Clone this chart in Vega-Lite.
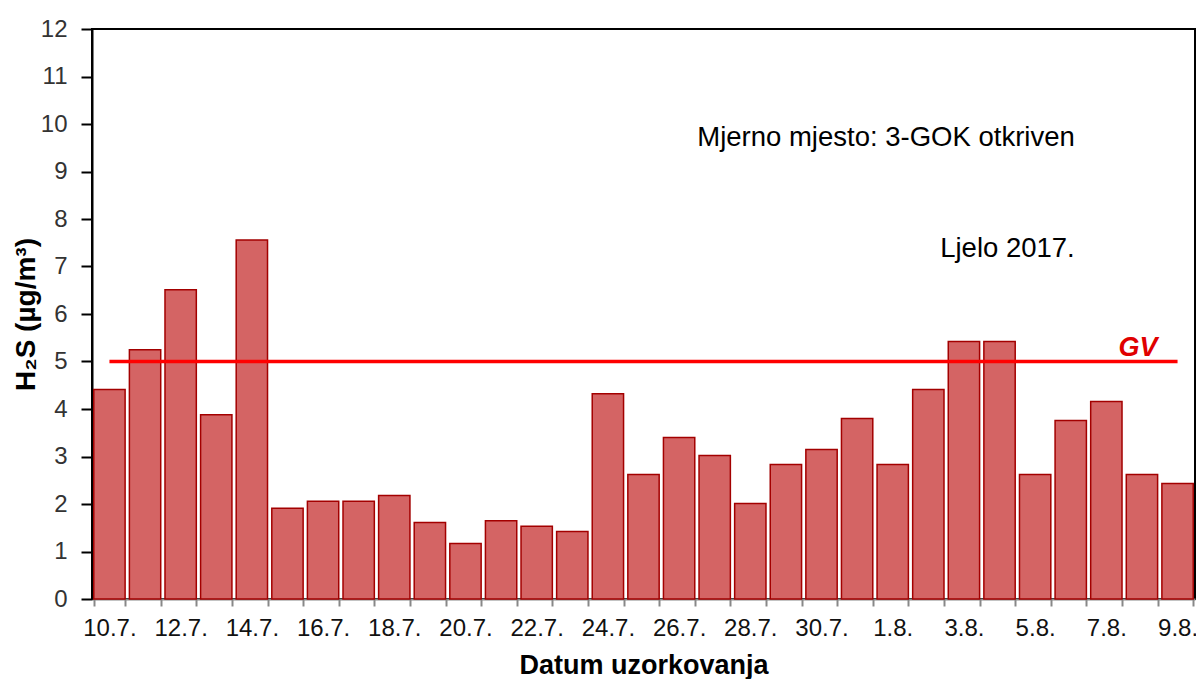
{
  "$schema": "https://vega.github.io/schema/vega-lite/v6.json",
  "width": 1103,
  "height": 570,
  "autosize": {"type": "none"},
  "padding": {"left": 92, "top": 29, "right": 1, "bottom": 80},
  "background": "white",
  "config": {
    "font": "Liberation Sans",
    "view": {"stroke": "black", "strokeWidth": 2}
  },
  "datasets": {
    "h2s": [
      {"datum": "10.7.", "h2s": 4.41},
      {"datum": "11.7.", "h2s": 5.25},
      {"datum": "12.7.", "h2s": 6.51},
      {"datum": "13.7.", "h2s": 3.88},
      {"datum": "14.7.", "h2s": 7.56},
      {"datum": "15.7.", "h2s": 1.91},
      {"datum": "16.7.", "h2s": 2.06},
      {"datum": "17.7.", "h2s": 2.06},
      {"datum": "18.7.", "h2s": 2.18},
      {"datum": "19.7.", "h2s": 1.61},
      {"datum": "20.7.", "h2s": 1.17},
      {"datum": "21.7.", "h2s": 1.65},
      {"datum": "22.7.", "h2s": 1.53},
      {"datum": "23.7.", "h2s": 1.42},
      {"datum": "24.7.", "h2s": 4.32},
      {"datum": "25.7.", "h2s": 2.62},
      {"datum": "26.7.", "h2s": 3.40},
      {"datum": "27.7.", "h2s": 3.02},
      {"datum": "28.7.", "h2s": 2.01},
      {"datum": "29.7.", "h2s": 2.83},
      {"datum": "30.7.", "h2s": 3.15},
      {"datum": "31.7.", "h2s": 3.80},
      {"datum": "1.8.", "h2s": 2.83},
      {"datum": "2.8.", "h2s": 4.41},
      {"datum": "3.8.", "h2s": 5.42},
      {"datum": "4.8.", "h2s": 5.42},
      {"datum": "5.8.", "h2s": 2.62},
      {"datum": "6.8.", "h2s": 3.76},
      {"datum": "7.8.", "h2s": 4.16},
      {"datum": "8.8.", "h2s": 2.62},
      {"datum": "9.8.", "h2s": 2.43}
    ]
  },
  "layer": [
    {
      "data": {"name": "h2s"},
      "mark": {"type": "bar", "fill": "#d46464", "stroke": "#a30000", "strokeWidth": 1.5},
      "encoding": {
        "x": {
          "field": "datum",
          "type": "nominal",
          "sort": null,
          "scale": {"paddingInner": 0.12, "paddingOuter": 0.05},
          "axis": {
            "title": "Datum uzorkovanja",
            "titleFont": "Liberation Sans",
            "titleFontSize": 27,
            "titleFontWeight": "bold",
            "titleColor": "black",
            "titlePadding": 12,
            "labelAngle": 0,
            "labelFontSize": 24,
            "labelColor": "#111",
            "labelPadding": 10,
            "labelExpr": "indexof(['10.7.','12.7.','14.7.','16.7.','18.7.','20.7.','22.7.','24.7.','26.7.','28.7.','30.7.','1.8.','3.8.','5.8.','7.8.','9.8.'], datum.value) >= 0 ? datum.value : ''",
            "tickBand": "extent",
            "tickSize": 7,
            "tickColor": "#888",
            "tickWidth": 2,
            "domainColor": "#888",
            "domainWidth": 2
          }
        },
        "y": {
          "field": "h2s",
          "type": "quantitative",
          "scale": {"domain": [0, 12], "nice": false},
          "axis": {
            "title": "H₂S (µg/m³)",
            "titleFontSize": 28,
            "titleFontWeight": "bold",
            "titleColor": "black",
            "titlePadding": 0,
            "values": [0, 1, 2, 3, 4, 5, 6, 7, 8, 9, 10, 11, 12],
            "grid": false,
            "labelFontSize": 24,
            "labelColor": "#333",
            "labelPadding": 14,
            "tickSize": 11,
            "tickColor": "black",
            "tickWidth": 2,
            "domainColor": "black",
            "domainWidth": 2
          }
        }
      }
    },
    {
      "data": {"values": [{"von": "10.7.", "bis": "9.8.", "gv": 5}]},
      "mark": {"type": "rule", "color": "#ff0000", "strokeWidth": 3.5},
      "encoding": {
        "x": {"field": "von", "type": "nominal", "sort": null},
        "x2": {"field": "bis"},
        "y": {"field": "gv", "type": "quantitative"}
      }
    },
    {
      "data": {"values": [{"pos": "8.8.", "yv": 5.12, "txt": "GV"}]},
      "mark": {"type": "text", "color": "#e00000", "fontSize": 27, "fontWeight": "bold", "fontStyle": "italic", "align": "center", "baseline": "alphabetic", "dx": -4},
      "encoding": {
        "x": {"field": "pos", "type": "nominal", "sort": null},
        "y": {"field": "yv", "type": "quantitative"},
        "text": {"field": "txt"}
      }
    },
    {
      "data": {"values": [
        {"pos": "6.8.", "yv": 9.54, "txt": "Mjerno mjesto: 3-GOK otkriven"},
        {"pos": "6.8.", "yv": 7.21, "txt": "Ljelo 2017."}
      ]},
      "mark": {"type": "text", "color": "black", "fontSize": 27.5, "align": "right", "baseline": "alphabetic", "dx": 4},
      "encoding": {
        "x": {"field": "pos", "type": "nominal", "sort": null},
        "y": {"field": "yv", "type": "quantitative"},
        "text": {"field": "txt"}
      }
    }
  ]
}
